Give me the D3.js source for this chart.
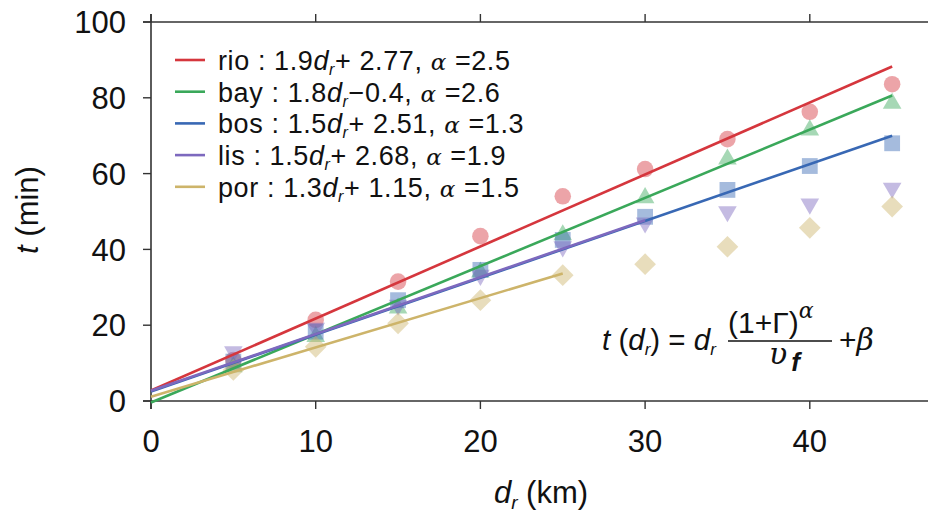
<!DOCTYPE html>
<html>
<head>
<meta charset="utf-8">
<script src="https://cdn.jsdelivr.net/npm/d3@7"></script>
<style>
  body { margin: 0; background: #fff; }
  text { font-family: "Liberation Sans", Arial, Helvetica, sans-serif; fill: #111; }
</style>
</head>
<body>
<div id="chart"></div>
<script>
let w = 928;
let h = 518;

// distance d_r (km)
let distances = [5, 10, 15, 20, 25, 30, 35, 40, 45];

// measured travel time t (min) per city
let rioTimes = [10.8, 21.4, 31.5, 43.5, 54, 61.2, 69.1, 76.3, 83.6];
let bayTimes = [9, 17, 24.5, 34, 43.8, 53.6, 63.8, 71.5, 78.5];
let bosTimes = [10.4, 18.3, 26.6, 34.6, 42.5, 48.6, 55.7, 62, 68];
let lisTimes = [13, 19.2, 25.3, 33.2, 40.7, 47, 50, 52, 56.2];
let porTimes = [8.2, 14.3, 20.5, 26.6, 33.2, 36.1, 40.7, 45.7, 51.3];

// fit lines: t = slope * d_r + intercept, drawn up to fitEnd
let cityNames = ["rio", "bay", "bos", "lis", "por"];
let slopes = [1.9, 1.8, 1.5, 1.5, 1.3];
let intercepts = [2.77, -0.4, 2.51, 2.68, 1.15];
let alphas = ["2.5", "2.6", "1.3", "1.9", "1.5"];
let interceptLabels = ["+ 2.77", "\u22120.4", "+ 2.51", "+ 2.68", "+ 1.15"];
let fitEnd = [45, 45, 45, 30, 25];

let xTicks = [0, 10, 20, 30, 40];
let yTicks = [0, 20, 40, 60, 80, 100];

let colors = ["#d5363d", "#3aa85a", "#3868b4", "#7d69be", "#cdb46a"];
let allTimes = [rioTimes, bayTimes, bosTimes, lisTimes, porTimes];

let x = d3.scaleLinear().domain([0, 50]).range([151, 974.5]);
let y = d3.scaleLinear().domain([0, 100]).range([401, 22]);

let svg = d3.select("#chart").append("svg")
  .attr("width", w)
  .attr("height", h);

// frame: bottom + top lines, left axis
let axisColor = "#333";
svg.append("line").attr("x1", 143).attr("x2", w).attr("y1", y(0)).attr("y2", y(0))
  .attr("stroke", axisColor).attr("stroke-width", 1.6);
svg.append("line").attr("x1", 143).attr("x2", w).attr("y1", y(100)).attr("y2", y(100))
  .attr("stroke", axisColor).attr("stroke-width", 1.6);
svg.append("line").attr("x1", x(0)).attr("x2", x(0)).attr("y1", 14).attr("y2", 409)
  .attr("stroke", axisColor).attr("stroke-width", 1.6);

// y ticks (outward, left)
svg.selectAll(".ytick").data(yTicks).enter()
  .append("line")
    .attr("class", "ytick")
    .attr("x1", 143).attr("x2", x(0))
    .attr("y1", d => y(d)).attr("y2", d => y(d))
    .attr("stroke", axisColor).attr("stroke-width", 1.4);

svg.selectAll(".ylab").data(yTicks).enter()
  .append("text")
    .attr("class", "ylab")
    .attr("x", 126)
    .attr("y", d => y(d))
    .attr("dy", "0.36em")
    .attr("text-anchor", "end")
    .attr("font-size", 31)
    .text(d => d);

// x ticks bottom (down) and top (up)
svg.selectAll(".xtick").data(xTicks).enter()
  .append("line")
    .attr("class", "xtick")
    .attr("x1", d => x(d)).attr("x2", d => x(d))
    .attr("y1", y(0)).attr("y2", y(0) + 8)
    .attr("stroke", axisColor).attr("stroke-width", 1.4);
svg.selectAll(".xtick2").data(xTicks).enter()
  .append("line")
    .attr("class", "xtick2")
    .attr("x1", d => x(d)).attr("x2", d => x(d))
    .attr("y1", y(100)).attr("y2", y(100) - 8)
    .attr("stroke", axisColor).attr("stroke-width", 1.4);

svg.selectAll(".xlab").data(xTicks).enter()
  .append("text")
    .attr("class", "xlab")
    .attr("x", d => x(d))
    .attr("y", 452)
    .attr("text-anchor", "middle")
    .attr("font-size", 31)
    .text(d => d);

// axis titles
let xt = svg.append("text")
  .attr("x", 541).attr("y", 503)
  .attr("text-anchor", "middle")
  .attr("font-size", 31);
xt.append("tspan").attr("font-style", "italic").text("d");
xt.append("tspan").attr("font-style", "italic").attr("font-size", 19).attr("dy", 6).text("r");
xt.append("tspan").attr("dy", -6).text(" (km)");

let yt = svg.append("text")
  .attr("transform", "translate(38,210) rotate(-90)")
  .attr("text-anchor", "middle")
  .attr("font-size", 31);
yt.append("tspan").attr("font-style", "italic").text("t");
yt.append("tspan").text(" (min)");

// markers (drawn under the lines)
let shapes = [
  d3.symbol().type(d3.symbolCircle).size(215),
  d3.symbol().type(d3.symbolTriangle).size(150),
  d3.symbol().type(d3.symbolSquare).size(250),
  d3.symbol().type(d3.symbolTriangle).size(150),
  d3.symbol().type(d3.symbolSquare).size(235)
];
let rotations = [0, 0, 0, 180, 45];

allTimes.forEach(function(times, k){
  svg.selectAll(".pt" + k).data(times).enter()
    .append("path")
      .attr("class", "pt" + k)
      .attr("d", shapes[k]())
      .attr("transform", (d, i) => "translate(" + x(distances[i]) + "," + y(d) + ") rotate(" + rotations[k] + ")")
      .attr("fill", colors[k])
      .attr("fill-opacity", 0.45);
});

// fit lines
cityNames.forEach(function(name, k){
  svg.append("line")
    .attr("x1", x(0))
    .attr("y1", y(intercepts[k]))
    .attr("x2", x(fitEnd[k]))
    .attr("y2", y(slopes[k] * fitEnd[k] + intercepts[k]))
    .attr("stroke", colors[k])
    .attr("stroke-width", 2.6);
});

// legend
let legend = svg.selectAll(".legend").data(cityNames).enter()
  .append("g")
    .attr("class", "legend")
    .attr("transform", (d, i) => "translate(0," + (60 + i * 31.7) + ")");

legend.append("line")
  .attr("x1", 175).attr("x2", 205)
  .attr("y1", 0).attr("y2", 0)
  .attr("stroke", (d, i) => colors[i])
  .attr("stroke-width", 2.6);

let lt = legend.append("text")
  .attr("x", 218)
  .attr("y", 10)
  .attr("font-size", 27)
  .attr("letter-spacing", 0.6);
lt.append("tspan").text((d, i) => d + " : " + slopes[i]);
lt.append("tspan").attr("font-style", "italic").text("d");
lt.append("tspan").attr("font-style", "italic").attr("font-size", 16).attr("dy", 5).text("r");
lt.append("tspan").attr("dy", -5).text((d, i) => interceptLabels[i] + ", ");
lt.append("tspan").attr("font-style", "italic").attr("font-family", "DejaVu Serif").attr("font-size", 23).text("\u03b1");
lt.append("tspan").text((d, i) => " =" + alphas[i]);

// formula
let f = svg.append("g");
let f1 = f.append("text").attr("x", 602).attr("y", 350).attr("font-size", 29.5);
f1.append("tspan").attr("font-style", "italic").text("t");
f1.append("tspan").text(" (");
f1.append("tspan").attr("font-style", "italic").text("d");
f1.append("tspan").attr("font-style", "italic").attr("font-size", 17).attr("dy", 5).text("r");
f1.append("tspan").attr("dy", -5).text(") = ");
f1.append("tspan").attr("font-style", "italic").text("d");
f1.append("tspan").attr("font-style", "italic").attr("font-size", 17).attr("dy", 5).text("r");

f.append("line").attr("x1", 728).attr("x2", 832).attr("y1", 341).attr("y2", 341)
  .attr("stroke", "#111").attr("stroke-width", 1.6);
let num = f.append("text").attr("x", 728).attr("y", 333).attr("font-size", 30);
num.append("tspan").text("(1+\u0393)");
num.append("tspan").attr("font-style", "italic").attr("font-family", "DejaVu Serif")
  .attr("font-size", 22).attr("dy", -15).text("\u03b1");
let den = f.append("text").attr("x", 769).attr("y", 364).attr("font-size", 30);
den.append("tspan").attr("font-family", "DejaVu Serif").attr("font-style", "italic").text("\u03c5");
den.append("tspan").attr("font-style", "italic").attr("font-weight", "bold").attr("font-size", 26)
  .attr("dx", 4).attr("dy", 7).text("f");
let f2 = f.append("text").attr("x", 839).attr("y", 350).attr("font-size", 30);
f2.append("tspan").text("+");
f2.append("tspan").attr("font-family", "DejaVu Serif").attr("font-style", "italic").text("\u03b2");
</script>
</body>
</html>
